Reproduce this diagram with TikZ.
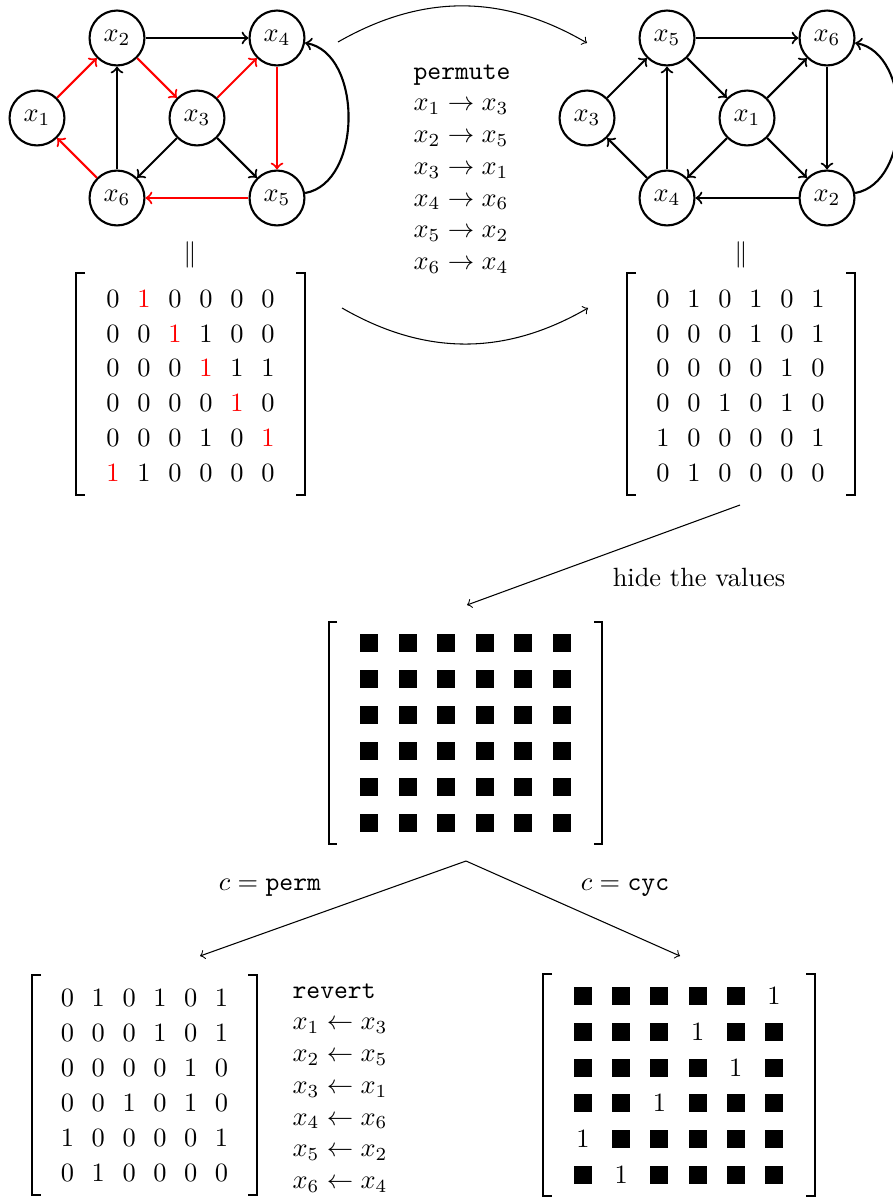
\documentclass[tikz,border=0pt]{standalone}
\usepackage{amsmath,amssymb}
\usetikzlibrary{arrows}
\begin{document}
\begin{tikzpicture}[x=0.3788pt,y=-0.3788pt,
  vtx/.style={circle,draw,thick,minimum size=20.8pt,inner sep=0pt},
  gedge/.style={->,thick},
  redge/.style={->,thick,red},
  flow/.style={->},
  brk/.style={line width=0.75pt},
  ent/.style={inner sep=0pt,anchor=center},
  sq/.style={fill=black,inner sep=0pt,minimum size=6.8pt},
  eqsign/.style={inner sep=0pt}]
\useasboundingbox (0,0) rectangle (893,1199);

% ---------- left graph ----------
\node[vtx] (a1) at (37,118) {$x_1$};
\node[vtx] (a2) at (117,38) {$x_2$};
\node[vtx] (a3) at (197,118) {$x_3$};
\node[vtx] (a4) at (277,38) {$x_4$};
\node[vtx] (a5) at (277,198) {$x_5$};
\node[vtx] (a6) at (117,198) {$x_6$};
\draw[redge] (a1) -- (a2);
\draw[redge] (a2) -- (a3);
\draw[redge] (a3) -- (a4);
\draw[redge] (a4) -- (a5);
\draw[redge] (a5) -- (a6);
\draw[redge] (a6) -- (a1);
\draw[gedge] (a2) -- (a4);
\draw[gedge] (a6) -- (a2);
\draw[gedge] (a3) -- (a6);
\draw[gedge] (a3) -- (a5);
\draw[gedge] (a5) to[bend right=80] (a4);

% ---------- right graph ----------
\node[vtx] (b3) at (587,118) {$x_3$};
\node[vtx] (b5) at (667,38) {$x_5$};
\node[vtx] (b1) at (747,118) {$x_1$};
\node[vtx] (b6) at (827,38) {$x_6$};
\node[vtx] (b4) at (667,198) {$x_4$};
\node[vtx] (b2) at (827,198) {$x_2$};
\draw[gedge] (b3) -- (b5);
\draw[gedge] (b4) -- (b3);
\draw[gedge] (b4) -- (b5);
\draw[gedge] (b5) -- (b1);
\draw[gedge] (b5) -- (b6);
\draw[gedge] (b1) -- (b6);
\draw[gedge] (b1) -- (b4);
\draw[gedge] (b1) -- (b2);
\draw[gedge] (b6) -- (b2);
\draw[gedge] (b2) -- (b4);
\draw[gedge] (b2) to[bend right=80] (b6);

% ---------- permute arrows & text ----------
\coordinate (ts) at (338,42);
\coordinate (te) at (587,43);
\draw[flow] (ts) to[bend left=30] (te);
\coordinate (bs) at (342,308);
\coordinate (be) at (588,308);
\draw[flow] (bs) to[bend right=30] (be);
\node[align=left,anchor=west,inner sep=0pt] (perm) at (413,169)
  {\texttt{permute}\\ $x_1\to x_3$\\ $x_2\to x_5$\\ $x_3\to x_1$\\ $x_4\to x_6$\\ $x_5\to x_2$\\ $x_6\to x_4$};

% ---------- equal signs ----------
\node[eqsign] (eqL) at (190,255) {$\|$};
\node[eqsign] (eqR) at (741,255) {$\|$};

% ---------- left matrix ----------
\draw[brk] (85,273) -- (76,273) -- (76,495) -- (85,495);
\draw[brk] (296,273) -- (305,273) -- (305,495) -- (296,495);
\foreach \r/\row in {1/{0,R,0,0,0,0},2/{0,0,R,1,0,0},3/{0,0,0,R,1,1},4/{0,0,0,0,R,0},5/{0,0,0,1,0,R},6/{R,1,0,0,0,0}}{
  \foreach \v [count=\c] in \row {
    \node[ent] (L\r-\c) at ({113+31*(\c-1)},{299+34.7*(\r-1)}) {\if\v R\textcolor{red}{$1$}\else$\v$\fi};
  }
}

% ---------- right matrix ----------
\draw[brk] (636,273) -- (627,273) -- (627,495) -- (636,495);
\draw[brk] (846,273) -- (855,273) -- (855,495) -- (846,495);
\foreach \r/\row in {1/{0,1,0,1,0,1},2/{0,0,0,1,0,1},3/{0,0,0,0,1,0},4/{0,0,1,0,1,0},5/{1,0,0,0,0,1},6/{0,1,0,0,0,0}}{
  \foreach \v [count=\c] in \row {
    \node[ent] (R\r-\c) at ({663+31*(\c-1)},{299+34.7*(\r-1)}) {$\v$};
  }
}

% ---------- hide the values ----------
\coordinate (hs) at (740,505);
\coordinate (he) at (467,605);
\draw[flow] (hs) -- (he);
\node (hide) at (699,577) {hide the values};

% ---------- hidden matrix ----------
\draw[brk] (337,622) -- (329,622) -- (329,844) -- (337,844);
\draw[brk] (594,622) -- (602,622) -- (602,844) -- (594,844);
\foreach \r in {1,...,6}{
  \foreach \c in {1,...,6}{
    \node[sq] (M\r-\c) at ({369+38.6*(\c-1)},{643+36*(\r-1)}) {};
  }
}

% ---------- fork ----------
\coordinate (fk) at (466,861);
\coordinate (fl) at (200,956);
\coordinate (fr) at (680,956);
\draw[flow] (fk) -- (fl);
\draw[flow] (fk) -- (fr);
\node (cperm) at (270,888) {$c=\texttt{perm}$};
\node (ccyc) at (625,888) {$c=\texttt{cyc}$};

% ---------- bottom-left matrix ----------
\draw[brk] (41,975) -- (32,975) -- (32,1195) -- (41,1195);
\draw[brk] (248,975) -- (257,975) -- (257,1195) -- (248,1195);
\foreach \r/\row in {1/{0,1,0,1,0,1},2/{0,0,0,1,0,1},3/{0,0,0,0,1,0},4/{0,0,1,0,1,0},5/{1,0,0,0,0,1},6/{0,1,0,0,0,0}}{
  \foreach \v [count=\c] in \row {
    \node[ent] (P\r-\c) at ({67.5+30.8*(\c-1)},{998+35*(\r-1)}) {$\v$};
  }
}
\node[align=left,anchor=west,inner sep=0pt] (rev) at (292,1088)
  {\texttt{revert}\\ $x_1\gets x_3$\\ $x_2\gets x_5$\\ $x_3\gets x_1$\\ $x_4\gets x_6$\\ $x_5\gets x_2$\\ $x_6\gets x_4$};

% ---------- bottom-right matrix ----------
\draw[brk] (552,974) -- (543,974) -- (543,1196) -- (552,1196);
\draw[brk] (806,974) -- (815,974) -- (815,1196) -- (806,1196);
\foreach \r/\row in {1/{S,S,S,S,S,1},2/{S,S,S,1,S,S},3/{S,S,S,S,1,S},4/{S,S,1,S,S,S},5/{1,S,S,S,S,S},6/{S,1,S,S,S,S}}{
  \foreach \v [count=\c] in \row {
    \if\v S
      \node[sq] (C\r-\c) at ({583+38.2*(\c-1)},{996+35.8*(\r-1)}) {};
    \else
      \node[ent] (C\r-\c) at ({583+38.2*(\c-1)},{996+35.8*(\r-1)}) {$\v$};
    \fi
  }
}
\end{tikzpicture}
\end{document}
